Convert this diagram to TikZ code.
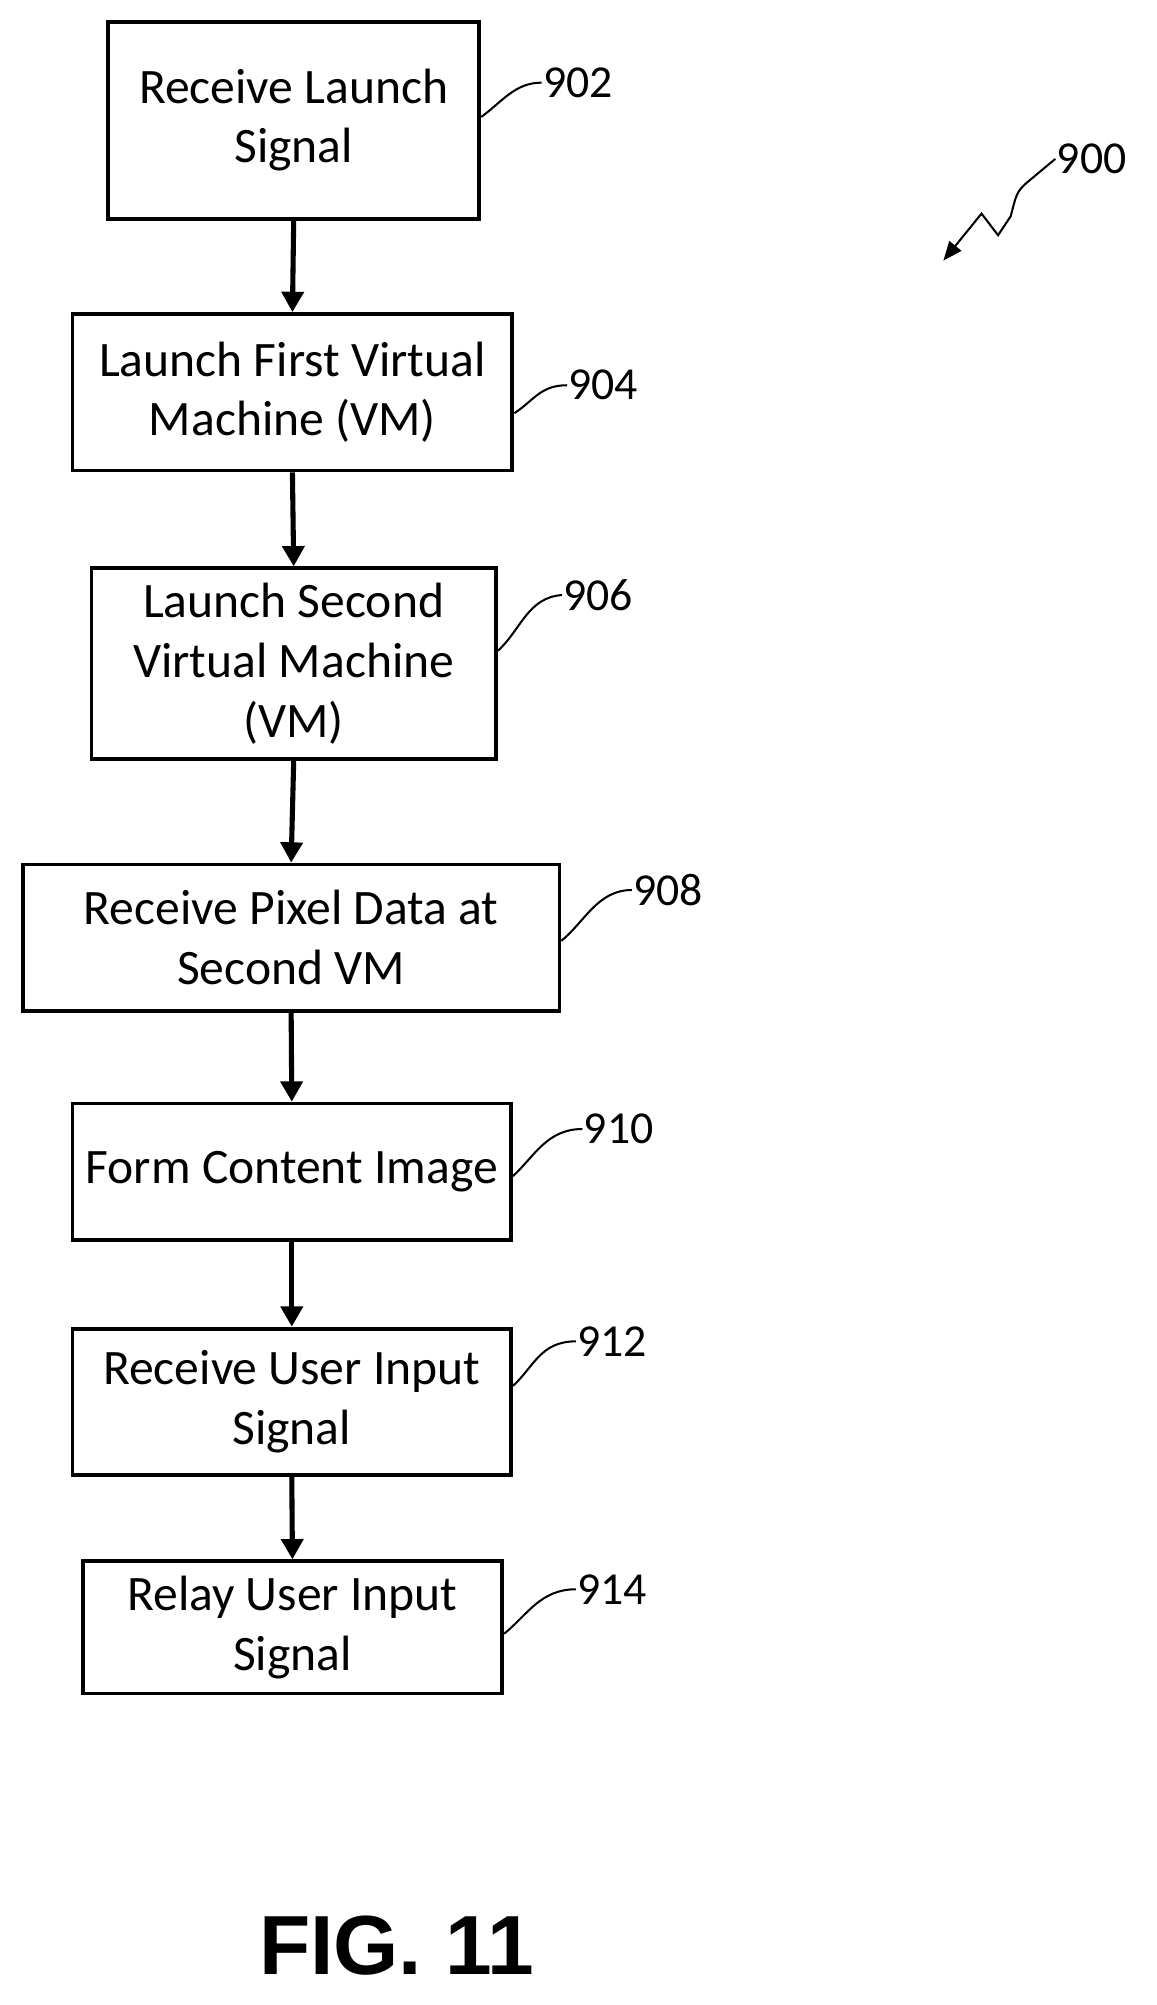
\documentclass[tikz,border=0pt]{standalone}
\usepackage{fontspec}
\setmainfont{Carlito}
\setsansfont{Liberation Sans}
\usetikzlibrary{arrows.meta}
\begin{document}
\begin{tikzpicture}[x=1pt,y=-1pt,
 box/.style={draw,line width=3pt,inner sep=0pt,font=\fontsize{39}{47}\selectfont,align=center},
 arr/.style={line width=4pt,-{Triangle[length=16pt,width=17pt]}},
 lead/.style={line width=1.6pt},
 lab/.style={font=\fontsize{36}{40}\selectfont,anchor=west,inner sep=1pt}]
\useasboundingbox (0,0) rectangle (910,1577);
\node[box,minimum width=292pt,minimum height=155pt] (b902) at (231,94.5) {Receive Launch\\Signal};
\node[box,minimum width=346pt,minimum height=123pt] (b904) at (230,308.5) {Launch First Virtual\\Machine (VM)};
\node[box,minimum width=318pt,minimum height=150pt] (b906) at (231,522) {Launch Second\\Virtual Machine\\(VM)};
\node[box,minimum width=422pt,minimum height=115pt] (b908) at (229,737.5) {Receive Pixel Data at\\Second VM};
\node[box,minimum width=345pt,minimum height=107pt] (b910) at (229.5,921.5) {Form Content Image};
\node[box,minimum width=345pt,minimum height=115pt] (b912) at (229.5,1102.5) {Receive User Input\\Signal};
\node[box,minimum width=330pt,minimum height=104pt] (b914) at (230,1280) {Relay User Input\\Signal};
\foreach \a/\b in {b902/b904,b904/b906,b906/b908,b908/b910,b910/b912,b912/b914}
  \draw[arr] (\a.south) -- (\b.north);
\node[lab] (l902) at (426,65) {902};
\node[lab] (l904) at (446,303) {904};
\node[lab] (l906) at (442,468) {906};
\node[lab] (l908) at (497,700) {908};
\node[lab] (l910) at (458,888) {910};
\node[lab] (l912) at (453,1055) {912};
\node[lab] (l914) at (453,1250) {914};
\node[lab] (l900) at (830,125) {900};
\draw[lead] (b902.east |- 0,92) .. controls (395,80) and (405,65) .. (l902.west);
\draw[lead] (b904.east |- 0,325) .. controls (420,315) and (425,303) .. (l904.west);
\draw[lead] (b906.east |- 0,512) .. controls (410,495) and (415,470) .. (l906.west);
\draw[lead] (b908.east |- 0,740) .. controls (460,725) and (470,700) .. (l908.west);
\draw[lead] (b910.east |- 0,925) .. controls (420,910) and (430,888) .. (l910.west);
\draw[lead] (b912.east |- 0,1090) .. controls (420,1075) and (425,1055) .. (l912.west);
\draw[lead] (b914.east |- 0,1285) .. controls (415,1270) and (425,1250) .. (l914.west);
\coordinate (z) at (742,205);
\draw[lead,-{Triangle[length=15pt,width=12pt]}] (l900.west) -- (812,140) .. controls (800,150) .. (795,170) -- (785,185) -- (772,168) -- (z);
\node[font=\sffamily\bfseries\fontsize{66}{70}\selectfont] (fig) at (312,1530) {FIG. 11};
\end{tikzpicture}
\end{document}
